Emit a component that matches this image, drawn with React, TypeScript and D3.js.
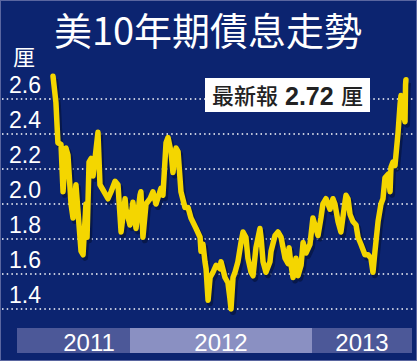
import React from 'react';
import * as d3 from 'd3';

// decimal year / yield (厘)
const dates = [
  2011.577, 2011.593, 2011.604, 2011.621, 2011.632, 2011.648, 2011.659, 2011.676, 2011.687, 2011.703,
  2011.731, 2011.742, 2011.758, 2011.764, 2011.775, 2011.786, 2011.797, 2011.824, 2011.835, 2011.852,
  2011.879, 2011.896, 2011.918, 2011.934, 2011.951, 2011.973, 2011.978, 2012.0, 2012.016, 2012.033,
  2012.055, 2012.06, 2012.071, 2012.088, 2012.11, 2012.126, 2012.143, 2012.17, 2012.181, 2012.198,
  2012.209, 2012.225, 2012.236, 2012.253, 2012.264, 2012.28, 2012.302, 2012.319, 2012.335, 2012.363,
  2012.385, 2012.39, 2012.401, 2012.412, 2012.418, 2012.429, 2012.44, 2012.456, 2012.473, 2012.495,
  2012.5, 2012.522, 2012.538, 2012.549, 2012.555, 2012.566, 2012.577, 2012.593, 2012.61, 2012.621,
  2012.637, 2012.648, 2012.665, 2012.676, 2012.692, 2012.714, 2012.72, 2012.731, 2012.747, 2012.769,
  2012.775, 2012.797, 2012.813, 2012.83, 2012.852, 2012.868, 2012.874, 2012.885, 2012.896, 2012.912,
  2012.923, 2012.94, 2012.951, 2012.967, 2012.989, 2013.005, 2013.016, 2013.033, 2013.049, 2013.06,
  2013.077, 2013.099, 2013.115, 2013.126, 2013.143, 2013.159, 2013.181, 2013.187, 2013.198, 2013.209,
  2013.225, 2013.242, 2013.253, 2013.269, 2013.291, 2013.308, 2013.324, 2013.335, 2013.346, 2013.363,
  2013.379, 2013.39, 2013.401, 2013.418, 2013.429, 2013.434, 2013.445, 2013.456, 2013.473, 2013.484,
  2013.489, 2013.5, 2013.511, 2013.514, 2013.516,
];
const yields = [
  2.73, 2.58, 2.35, 2.34, 2.07, 2.32, 2.28, 2.0, 1.92, 2.11,
  1.73, 1.71, 2.0, 1.81, 2.24, 2.26, 2.16, 2.41, 2.11, 2.08,
  2.03, 2.07, 2.13, 2.11, 1.84, 2.03, 1.97, 1.88, 2.01, 1.86,
  2.05, 2.07, 1.81, 2.0, 2.03, 2.07, 2.0, 2.09, 2.05, 2.35,
  2.38, 2.3, 2.18, 2.32, 2.3, 2.07, 1.98, 1.98, 1.92, 1.86,
  1.81, 1.73, 1.77, 1.67, 1.63, 1.45, 1.58, 1.61, 1.65, 1.63,
  1.67, 1.58, 1.55, 1.46, 1.4, 1.58, 1.61, 1.67, 1.78, 1.84,
  1.81, 1.69, 1.61, 1.59, 1.75, 1.86, 1.81, 1.67, 1.61, 1.67,
  1.73, 1.82, 1.84, 1.81, 1.69, 1.66, 1.75, 1.65, 1.58, 1.69,
  1.59, 1.65, 1.78, 1.72, 1.77, 1.92, 1.88, 1.82, 1.92, 2.0,
  2.03, 1.97, 2.03, 2.0, 1.9, 1.84, 2.01, 2.05, 2.03, 1.94,
  1.9, 1.88, 1.81, 1.77, 1.71, 1.71, 1.69, 1.61, 1.73, 1.9,
  2.0, 2.03, 2.15, 2.17, 2.07, 2.21, 2.24, 2.22, 2.41, 2.57,
  2.62, 2.53, 2.47, 2.68, 2.71,
];
const yTicks = [1.4, 1.6, 1.8, 2.0, 2.2, 2.4, 2.6];
const years = [2011, 2012, 2013];
const title = '美10年期債息走勢';
const unit = '厘';
const latest = 2.72;

const W = 417;
const H = 361;
const bg = '#0c2470';
const stripLeft = 17;
const stripRight = 412;
const cjk = "'Noto Sans CJK TC', 'Liberation Sans', sans-serif";

export default function App() {
  const x = d3.scaleLinear().domain([2012, 2013]).range([130, 312]);
  const y = d3.scaleLinear().domain([1.4, 2.6]).range([309, 99]);

  const pts = dates.map((d, i) => [d, yields[i]] as [number, number]);
  const line = d3.line<[number, number]>()
    .x(d => x(d[0]))
    .y(d => y(d[1]));
  const path = line(pts) || '';

  const dataLeft = x(dates[0]) - 5;

  return (
    <svg width={W} height={H} style={{ position: 'absolute', left: 0, top: 0 }}
      fontFamily="'Liberation Sans', Arial, 'Noto Sans CJK TC', sans-serif">
      <rect x={0} y={0} width={W} height={H} fill={bg} />
      <rect x={0.5} y={0.5} width={W - 1} height={H - 1} fill="none" stroke="#5a66a0" strokeWidth={1} />

      <text x={208} y={45} fill="#fff" fontSize={38} textAnchor="middle" fontFamily={cjk}>{title}</text>
      <text x={13} y={65} fill="#fff" fontSize={22} fontFamily={cjk}>{unit}</text>

      {yTicks.map(t => (
        <g key={t}>
          <line x1={2} x2={415} y1={y(t)} y2={y(t)} stroke="#fff" strokeWidth={1.5}
            strokeDasharray="1.5 3.2" />
          <text x={9} y={y(t) - 6} fill="#fff" fontSize={23}>{t.toFixed(1)}</text>
        </g>
      ))}

      {years.map(yr => {
        const x0 = Math.max(x(yr), stripLeft);
        const x1 = Math.min(x(yr + 1), stripRight);
        const lx = (Math.max(x(yr), dataLeft) + x1) / 2;
        return (
          <g key={yr}>
            <rect x={x0} y={328} width={x1 - x0} height={25}
              fill={yr % 2 === 0 ? '#8a90c2' : '#4c5898'} />
            <text x={lx} y={351} fill="#fff" fontSize={24} textAnchor="middle">{yr}</text>
          </g>
        );
      })}

      <path d={path} fill="none" stroke="#061440" strokeOpacity={0.75} strokeWidth={6}
        strokeLinejoin="round" transform="translate(2,3)" />
      <path d={path} fill="none" stroke="#f4d600" strokeWidth={5.5}
        strokeLinejoin="round" strokeLinecap="round" />

      <rect x={205} y={78} width={165} height={34} fill="#fff" />
      <text x={212} y={104} fill="#222" fontSize={22} fontWeight={500} fontFamily={cjk}>最新報</text>
      <text x={285} y={105} fill="#222" fontSize={25} fontWeight="bold">{latest.toFixed(2)}</text>
      <text x={341} y={104} fill="#222" fontSize={22} fontWeight={500} fontFamily={cjk}>{unit}</text>
    </svg>
  );
}
